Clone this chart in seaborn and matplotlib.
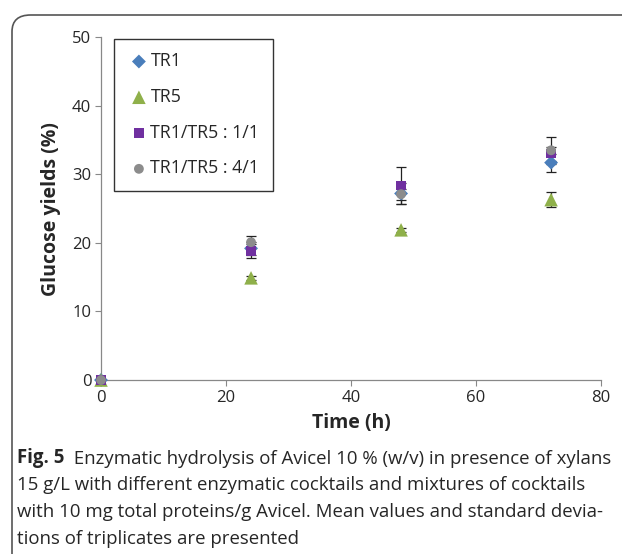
import numpy as np
import pandas as pd
import matplotlib
matplotlib.use("Agg")
import matplotlib.pyplot as plt
from matplotlib.patches import FancyBboxPatch
import seaborn as sns

# data
time_h = [0, 24, 48, 72]
series = ['TR1', 'TR5', 'TR1/TR5 : 1/1', 'TR1/TR5 : 4/1']
tr1 = [0, 19.2, 27.2, 31.7]
tr5 = [0, 14.9, 21.9, 26.3]
mix11 = [0, 18.8, 28.4, 33.0]
mix41 = [0, 20.1, 27.1, 33.5]
tr1_sd = [0, 1.0, 1.6, 1.3]
tr5_sd = [0, 0.3, 0.3, 1.1]
mix11_sd = [0, 1.0, 2.7, 1.0]
mix41_sd = [0, 0.9, 0.8, 2.0]

caption_bold = 'Fig. 5'
caption_lines = [
    '  Enzymatic hydrolysis of Avicel 10 % (w/v) in presence of xylans',
    '15 g/L with different enzymatic cocktails and mixtures of cocktails',
    'with 10 mg total proteins/g Avicel. Mean values and standard devia-',
    'tions of triplicates are presented',
]

df = pd.DataFrame({
    'Time': time_h * 4,
    'Yield': tr1 + tr5 + mix11 + mix41,
    'SD': tr1_sd + tr5_sd + mix11_sd + mix41_sd,
    'Series': [s for s in series for _ in time_h],
})

colors = {'TR1': '#4a7ebb', 'TR5': '#8fb04a',
          'TR1/TR5 : 1/1': '#7030a0', 'TR1/TR5 : 4/1': '#8c8c8c'}
markers = {'TR1': 'D', 'TR5': '^', 'TR1/TR5 : 1/1': 's', 'TR1/TR5 : 4/1': 'o'}
sizes = {'TR1': 50, 'TR5': 95, 'TR1/TR5 : 1/1': 45, 'TR1/TR5 : 4/1': 50}

sns.set_style('white')
plt.rcParams['font.family'] = ['Open Sans', 'DejaVu Sans']

fig = plt.figure(figsize=(6.22, 5.54), dpi=100)
ax = fig.add_axes([0.1624, 0.314, 0.804, 0.619])

for name in series:
    sub = df[df['Series'] == name]
    ax.errorbar(sub['Time'], sub['Yield'], yerr=sub['SD'], fmt='none',
                ecolor='#222222', elinewidth=0.9, capsize=3.5, capthick=0.9,
                zorder=2)
    sns.scatterplot(data=sub, x='Time', y='Yield', marker=markers[name],
                    color=colors[name], s=sizes[name], edgecolor='none',
                    label=name, ax=ax, zorder=3, clip_on=False)

ax.set_xlim(0, 80)
ax.set_ylim(0, 50)
ax.set_xticks([0, 20, 40, 60, 80])
ax.set_yticks([0, 10, 20, 30, 40, 50])
ax.tick_params(axis='both', direction='out', length=4, width=0.8,
               color='#888888', labelsize=12, pad=3, bottom=True, left=True)
for side in ['top', 'right']:
    ax.spines[side].set_visible(False)
for side in ['left', 'bottom']:
    ax.spines[side].set_color('#888888')
    ax.spines[side].set_linewidth(0.9)
ax.set_xlabel('Time (h)', fontsize=14, fontweight='bold', labelpad=5)
ax.set_ylabel('Glucose yields (%)', fontsize=14, fontweight='bold', labelpad=8)

leg = ax.legend(loc='upper left', bbox_to_anchor=(0.026, 0.995), frameon=True,
                fancybox=False, edgecolor='black', fontsize=12.8,
                handletextpad=0.0, labelspacing=1.0, borderpad=0.75,
                handlelength=1.3, borderaxespad=0)
leg.get_frame().set_linewidth(1.0)

# rounded border round the figure panel
border = FancyBboxPatch((12 / 622, -0.05), 1.2, 1.0 - 15 / 554 + 0.05,
                        boxstyle='round,pad=0,rounding_size=0.03',
                        transform=fig.transFigure, fill=False,
                        edgecolor='#555555', linewidth=1.2)
fig.patches.append(border)

# caption
y0 = 1 - 463 / 554
t1 = fig.text(17 / 622, y0, caption_bold, fontsize=13.4, fontweight='bold',
              va='baseline', ha='left')
ax.annotate(caption_lines[0], xy=(1, 0), xycoords=t1, va='bottom', ha='left',
            fontsize=13.4, annotation_clip=False)
for i, line in enumerate(caption_lines[1:], start=1):
    fig.text(17 / 622, y0 - i * 27 / 554, line, fontsize=13.4,
             va='baseline', ha='left')

fig.savefig('out.png', dpi=100)
